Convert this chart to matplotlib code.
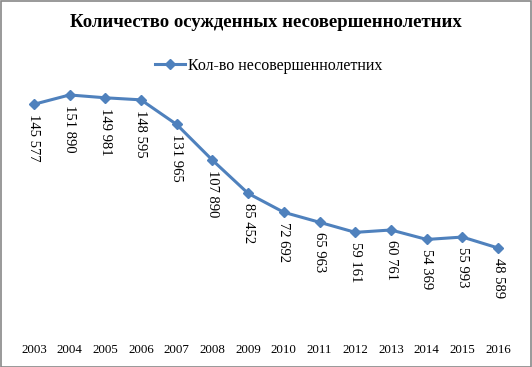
import matplotlib
matplotlib.use("Agg")
import matplotlib.pyplot as plt
from matplotlib.patches import Rectangle

years = ["2003", "2004", "2005", "2006", "2007", "2008", "2009", "2010",
         "2011", "2012", "2013", "2014", "2015", "2016"]
values = [145577, 151890, 149981, 148595, 131965, 107890, 85452, 72692,
          65963, 59161, 60761, 54369, 55993, 48589]
labels = ["145 577", "151 890", "149 981", "148 595", "131 965", "107 890",
          "85 452", "72 692", "65 963", "59 161", "60 761", "54 369",
          "55 993", "48 589"]
series_name = "Кол-во несовершеннолетних"
title = "Количество осужденных несовершеннолетних"

plt.rcParams['font.family'] = ['Liberation Serif', 'DejaVu Serif']

fig = plt.figure(figsize=(5.32, 3.67), dpi=100)
ax = fig.add_axes([0.030, 0.128, 0.940, 0.646])
x = list(range(len(years)))
color = "#4F81BD"
ax.plot(x, values, color=color, lw=2.2, marker="D", ms=5, label=series_name)
for xi, v, lab in zip(x, values, labels):
    ax.annotate(lab, (xi, v), xytext=(0, -7), textcoords="offset points",
                rotation=-90, ha="center", va="top", fontsize=10.5)
ax.set_xlim(-0.5, len(years) - 0.5)
ax.set_ylim(0, 160000)
ax.set_xticks(x)
ax.set_xticklabels(years, fontsize=9.3)
ax.tick_params(axis="x", length=0, pad=17)
ax.set_yticks([])
for s in ax.spines.values():
    s.set_visible(False)

fig.text(0.5, 0.94, title, ha="center", va="center", fontsize=13.5, fontweight="bold")
fig.legend(loc="center", bbox_to_anchor=(0.505, 0.82), frameon=False, fontsize=11.5,
           handlelength=1.9, handletextpad=0.15)
fig.add_artist(Rectangle((0.001, 0.001), 0.997, 0.996, transform=fig.transFigure,
                         fill=False, edgecolor="#888888", lw=1.2))
fig.savefig("out.png", dpi=100)
